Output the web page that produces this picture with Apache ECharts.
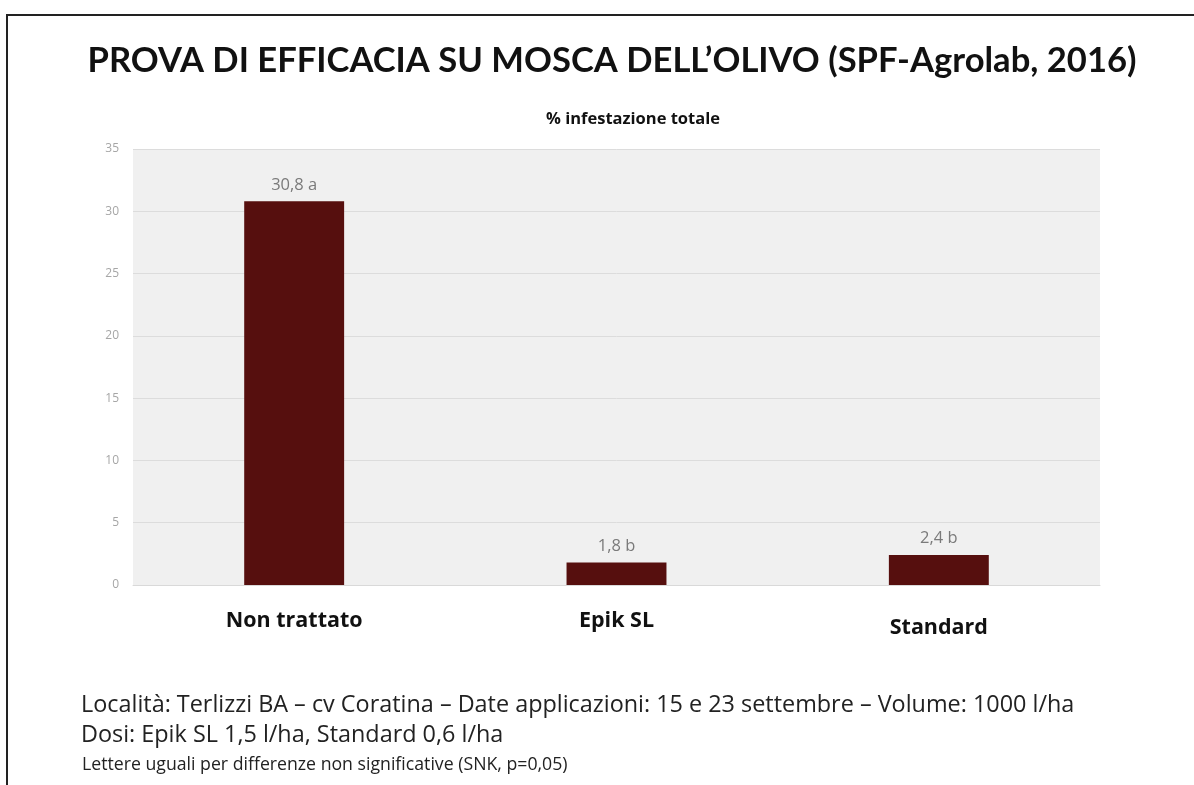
<!DOCTYPE html>
<html>
<head>
<meta charset="utf-8">
<script src="https://cdn.jsdelivr.net/npm/echarts@6/dist/echarts.min.js"></script>
<style>
  html, body { margin: 0; padding: 0; background: #fff; }
  #main { width: 1194px; height: 785px; }
</style>
</head>
<body>
<div id="main"></div>
<script>
// dati del grafico
var categorie = ['Non trattato', 'Epik SL', 'Standard'];
var infestazione = [30.8, 1.8, 2.4];
var lettere = ['a', 'b', 'b'];
var yMax = 35;
var yStep = 5;

var titolo = 'PROVA DI EFFICACIA SU MOSCA DELL\u2019OLIVO (SPF-Agrolab, 2016)';
var sottotitolo = '% infestazione totale';
var note = [
  'Località: Terlizzi BA \u2013 cv Coratina \u2013 Date applicazioni: 15 e 23 settembre \u2013 Volume: 1000 l/ha',
  'Dosi: Epik SL 1,5 l/ha, Standard 0,6 l/ha',
  'Lettere uguali per differenze non significative (SNK, p=0,05)'
];

var chart = echarts.init(document.getElementById('main'));

var fontTitolo = 'Lato, "Open Sans", sans-serif';
var font = '"Open Sans", Lato, sans-serif';

// "Standard" nel riferimento sta qualche pixel più in basso
var datiCategorie = categorie.map(function (c, i) {
  return i === 2 ? { value: c, textStyle: { padding: [7, 0, 0, 0] } } : c;
});

var option = {
  backgroundColor: '#ffffff',
  animation: false,
  title: [
    {
      text: titolo,
      left: 607, top: 38, textAlign: 'center',
      textStyle: { fontFamily: fontTitolo, fontSize: 34.6, fontWeight: 'bold', color: '#111' }
    },
    {
      text: sottotitolo,
      left: 628, top: 106, textAlign: 'center',
      textStyle: { fontFamily: font, fontSize: 16.5, fontWeight: 'bold', color: '#111' }
    },
    {
      text: note[0],
      left: 76, top: 689,
      textStyle: { fontFamily: font, fontSize: 23.4, fontWeight: 'normal', color: '#222' }
    },
    {
      text: note[1],
      left: 76, top: 719,
      textStyle: { fontFamily: font, fontSize: 23.4, fontWeight: 'normal', color: '#222' }
    },
    {
      text: note[2],
      left: 77, top: 751,
      textStyle: { fontFamily: font, fontSize: 17.7, fontWeight: 'normal', color: '#222' }
    }
  ],
  grid: {
    left: 133, right: 94, top: 149, bottom: 200,
    show: true, backgroundColor: '#f0f0f0', borderWidth: 0
  },
  xAxis: {
    type: 'category',
    data: datiCategorie,
    axisLine: { show: true, lineStyle: { color: '#d9d9d9' } },
    axisTick: { show: false },
    axisLabel: {
      margin: 25,
      fontFamily: font, fontSize: 21.5, fontWeight: 'bold', color: '#111'
    }
  },
  yAxis: {
    type: 'value',
    min: 0, max: yMax, interval: yStep,
    axisLine: { show: false },
    axisTick: { show: false },
    axisLabel: { margin: 14, fontFamily: font, fontSize: 12, color: '#a6a6a6' },
    splitLine: { lineStyle: { color: '#dcdcdc', width: 1 } }
  },
  series: [{
    type: 'bar',
    data: infestazione,
    barWidth: '31%',
    itemStyle: { color: '#560f0e' },
    label: {
      show: true,
      position: 'top',
      distance: 8,
      fontFamily: font, fontSize: 16.5, color: '#7a7a7a',
      formatter: function (p) {
        return String(p.value).replace('.', ',') + ' ' + lettere[p.dataIndex];
      }
    }
  }],
  graphic: [
    {
      type: 'line', silent: true,
      shape: { x1: 7, y1: 15, x2: 1194, y2: 15 },
      style: { stroke: '#222', lineWidth: 2 }
    },
    {
      type: 'line', silent: true,
      shape: { x1: 7, y1: 14, x2: 7, y2: 785 },
      style: { stroke: '#222', lineWidth: 2 }
    }
  ]
};

chart.setOption(option);
</script>
</body>
</html>
